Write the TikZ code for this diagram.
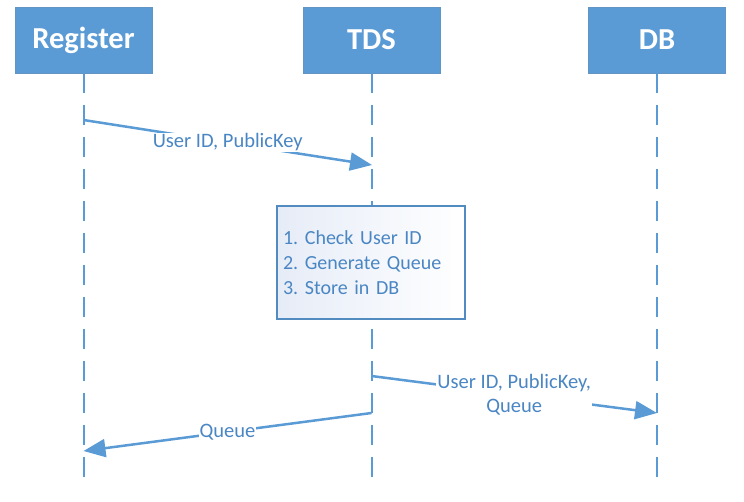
\documentclass[tikz,border=0pt]{standalone}
\usepackage{fontspec}
\setmainfont{Carlito}
\usepackage{tikz}
\usetikzlibrary{arrows.meta}

\definecolor{OfficeBlue}{HTML}{5B9BD5}
\definecolor{LabelBlue}{HTML}{4A86C4}
\definecolor{BoxTint}{HTML}{E6ECF7}

\begin{document}
\frenchspacing
\begin{tikzpicture}[x=1pt, y=-1pt, line cap=butt]
    \useasboundingbox (0,0) rectangle (744,501);

    \node[fill=OfficeBlue, draw=OfficeBlue!80!gray, minimum width=137pt, minimum height=66pt, inner sep=0pt, text=white, font=\fontsize{30.5}{34}\selectfont\bfseries]  (R)  at ( 83.5, 40.0)   {Register};
    \node[fill=OfficeBlue, draw=OfficeBlue!80!gray, minimum width=137pt, minimum height=66pt, inner sep=0pt, text=white, font=\fontsize{30.5}{34}\selectfont\bfseries]  (T)  at (371.5, 40.0)   {TDS};
    \node[fill=OfficeBlue, draw=OfficeBlue!80!gray, minimum width=137pt, minimum height=66pt, inner sep=0pt, text=white, font=\fontsize{30.5}{34}\selectfont\bfseries]  (D)  at (657.0, 40.0)   {DB};

    \coordinate (Rend) at ( 83.5, 478);
    \coordinate (Tend) at (371.5, 478);
    \coordinate (Dend) at (657.0, 478);

    \draw[OfficeBlue, line width=2pt, dash pattern=on 20pt off 12pt] (R.south) -- (Rend);
    \draw[OfficeBlue, line width=2pt, dash pattern=on 20pt off 12pt] (T.south) -- (Tend);
    \draw[OfficeBlue, line width=2pt, dash pattern=on 20pt off 12pt] (D.south) -- (Dend);

    \node[draw=OfficeBlue!90!black, line width=1.5pt, shading=axis, shading angle=135, left color=BoxTint, right color=white, minimum width=188pt, minimum height=113pt, inner xsep=6pt, text width=176pt, align=left, text=LabelBlue, font=\fontsize{20}{25}\selectfont]  (P)  at (371.0, 262.5)
        {1. Check User ID\\ 2. Generate Queue\\ 3. Store in DB};

    \coordinate (R1) at ( 83.5, 120);
    \coordinate (T1) at (372.0, 165);
    \coordinate (T2) at (371.5, 376);
    \coordinate (D2) at (657.0, 413);
    \coordinate (T3) at (371.5, 413);
    \coordinate (R3) at ( 83.5, 451);

    \draw[-{Triangle[length=22pt, width=18pt]}, OfficeBlue, line width=2.5pt] (R1) -- node[fill=white, inner sep=1pt, text=LabelBlue, font=\fontsize{20.5}{24}\selectfont] {User ID, PublicKey} (T1);
    \draw[-{Triangle[length=22pt, width=18pt]}, OfficeBlue, line width=2.5pt] (T2) -- node[fill=white, inner sep=1pt, align=center, text=LabelBlue, font=\fontsize{20.5}{24}\selectfont] {User ID, PublicKey,\\ Queue} (D2);
    \draw[-{Triangle[length=22pt, width=18pt]}, OfficeBlue, line width=2.5pt] (T3) -- node[fill=white, inner sep=1pt, text=LabelBlue, font=\fontsize{20.5}{24}\selectfont] {Queue} (R3);
\end{tikzpicture}
\end{document}
